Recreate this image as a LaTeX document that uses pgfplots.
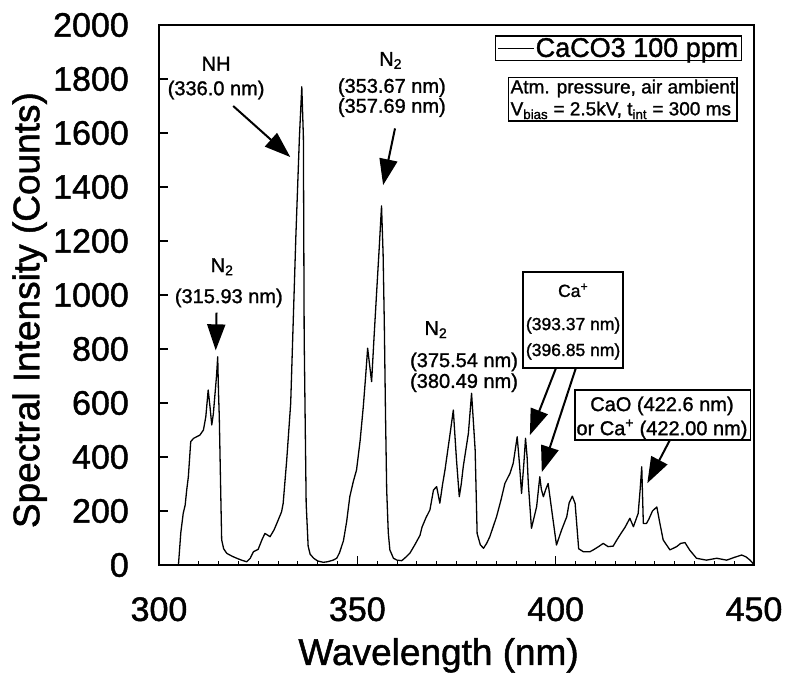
\documentclass[border=0pt]{standalone}
\usepackage{fontspec}
\setmainfont{Liberation Sans}[FakeBold=1.3]
\usepackage{pgfplots}
\usepackage{pgfplotstable}
\pgfplotsset{compat=1.18}
\usetikzlibrary{arrows.meta}

% Emission spectrum, CaCO3 100 ppm
\pgfplotstableread{
wl counts
304.9 0
305.5 120
306.1 191
306.6 222
307.0 280
307.4 327
308.0 457
308.7 469
309.5 475
310.3 481
311.2 500
311.8 549
312.4 648
312.9 580
313.3 519
313.7 560
314.1 630
314.5 700
314.8 771
315.0 640
315.2 549
315.6 241
315.8 93
316.3 60
317.1 43
318.5 32
319.6 25
320.8 18
322.1 12
323.0 25
323.8 49
325.0 58
326.0 95
326.7 117
328.0 105
329.0 130
329.7 154
330.9 197
331.3 228
332.2 389
333.2 599
334.5 1216
335.4 1586
336.0 1771
336.4 1586
336.6 846
337.1 228
337.6 70
338.1 40
339.0 25
340.0 15
341.4 10
342.5 12
343.9 18
344.8 25
345.5 45
346.5 90
347.3 160
348.1 253
349.0 310
349.8 352
350.7 460
351.5 586
352.1 700
352.6 803
353.1 740
353.6 679
354.2 840
354.9 1019
355.5 1170
356.1 1330
356.5 1150
356.8 895
357.1 560
357.4 278
357.8 120
358.2 56
359.1 25
360.0 18
361.2 16
362.3 30
363.3 45
364.5 75
365.8 110
366.3 140
367.3 175
368.3 204
369.2 278
370.0 290
370.8 229
371.5 300
372.1 352
373.4 488
374.2 574
374.6 480
375.0 389
375.7 253
376.2 300
376.7 364
378.0 488
378.8 636
379.3 520
379.7 426
380.2 117
381.0 75
381.8 62
382.6 80
383.4 105
385.1 179
386.2 240
387.2 302
388.5 340
389.3 377
390.3 475
390.9 370
391.4 265
392.0 380
392.4 469
392.8 400
393.1 302
393.9 136
395.2 216
396.0 327
396.4 280
396.9 253
397.5 280
398.1 302
399.0 204
400.2 74
401.5 130
402.8 179
403.4 230
404.2 255
404.9 228
405.8 60
407.0 49
408.6 49
409.5 56
410.8 68
412.0 80
413.2 68
414.5 70
415.3 90
416.2 111
417.5 140
418.7 173
419.6 142
420.8 191
421.3 280
421.7 364
422.1 154
422.9 154
423.5 170
424.4 200
425.5 215
426.2 160
427.1 93
428.8 56
430.5 68
431.5 80
432.6 83
433.8 55
435.5 25
438.0 18
440.6 25
443.1 18
445.0 28
446.9 37
448.0 30
449.0 18
449.8 5
}\spectrum

\tikzset{
  lab/.style={anchor=base, font=\fontsize{20}{24}\selectfont, inner sep=0pt},
  boxlab/.style={anchor=base, font=\fontsize{17.5}{21}\selectfont, inner sep=0pt},
  arr/.style={line width=2pt, -{Triangle[length=26pt,width=18pt]}},
}

\begin{document}
\begin{tikzpicture}
\useasboundingbox (-159pt,-110pt) rectangle (627pt,565pt);
\begin{axis}[
  at={(0pt,0pt)}, anchor=south west,
  scale only axis, width=595pt, height=540pt,
  xmin=300, xmax=450, ymin=0, ymax=2000,
  xtick={300,350,400,450}, ytick={0,200,...,2000},
  minor x tick num=9,
  tick align=inside, xtick pos=bottom, ytick pos=left,
  major tick length=9pt, minor tick length=4pt,
  axis line style={line width=2.5pt},
  every tick/.style={line width=1.5pt, black},
  every minor tick/.style={line width=0.8pt, black},
  tick label style={font=\fontsize{34}{40}\selectfont, inner sep=0pt},
  /pgf/number format/assume math mode=true,
  /pgf/number format/1000 sep={},
  xticklabel style={yshift=-32pt},
  yticklabel style={xshift=-30pt},
  xlabel={Wavelength (nm)}, ylabel={Spectral Intensity (Counts)},
  label style={font=\fontsize{37}{42}\selectfont},
  xlabel style={at={(axis description cs:0.47,-0.135)}, anchor=north, inner sep=0pt},
  ylabel style={at={(axis description cs:-0.188,0.472)}, anchor=south, inner sep=0pt},
  clip=false,
  legend style={at={(0.98,0.981)}, anchor=north east, draw=black, line width=1.6pt,
    font=\fontsize{27}{30}\selectfont, inner xsep=2pt, inner ysep=1pt,
    nodes={inner sep=1pt}},
  legend image code/.code={\draw[line width=1pt] (0pt,0pt) -- (36pt,0pt);},
]
\addplot[black, line width=1.3pt, line join=round] table[x=wl, y=counts] {\spectrum};
\addlegendentry{CaCO3 100 ppm}

% measurement conditions
\node[draw, line width=1.5pt, anchor=north east, align=left,
      font=\fontsize{19}{22}\selectfont, inner sep=2pt]
  at (rel axis cs:0.973,0.904)
  {Atm. pressure, air ambient\\V\textsubscript{bias} = 2.5kV, t\textsubscript{int} = 300 ms};

% NH band
\node[lab] at (axis cs:314.4,1831) {NH};
\node[lab] at (axis cs:314.4,1740) {(336.0 nm)};
\draw[arr] (axis cs:318.7,1700) -- (axis cs:333.1,1511);

% N2 bands near 355 nm
\node[lab] at (axis cs:358.4,1849) {N\textsubscript{2}};
\node[lab] at (axis cs:358.7,1749) {(353.67 nm)};
\node[lab] at (axis cs:358.7,1675) {(357.69 nm)};
\draw[arr] (axis cs:359.5,1617) -- (axis cs:356.5,1407);

% N2 band at 315.93 nm
\node[lab] at (axis cs:315.9,1085) {N\textsubscript{2}};
\node[lab] at (axis cs:317.6,970) {(315.93 nm)};
\draw[arr] (axis cs:314.5,935) -- (axis cs:314.3,795);

% N2 bands near 378 nm
\node[lab] at (axis cs:369.8,852) {N\textsubscript{2}};
\node[lab] at (axis cs:376.9,733) {(375.54 nm)};
\node[lab] at (axis cs:376.9,656) {(380.49 nm)};

% Ca+ lines
\draw[line width=1.5pt] (axis cs:391.8,1085) rectangle (axis cs:417.0,730);
\node[boxlab] at (axis cs:404.4,993) {Ca\textsuperscript{+}};
\node[boxlab] at (axis cs:404.4,870) {(393.37 nm)};
\node[boxlab] at (axis cs:404.4,774) {(396.85 nm)};
\draw[arr] (axis cs:400.1,730) -- (axis cs:393.5,481);
\draw[arr] (axis cs:405.1,730) -- (axis cs:396.5,344);

% CaO / Ca+ near 422 nm
\draw[line width=1.5pt] (axis cs:404.9,648) rectangle (axis cs:449.1,463);
\node[lab] at (axis cs:426.8,570) {CaO (422.6 nm)};
\node[lab] at (axis cs:426.8,481) {or Ca\textsuperscript{+} (422.00 nm)};
\draw[arr] (axis cs:428.8,463) -- (axis cs:423.1,303);
\end{axis}
\end{tikzpicture}
\end{document}
